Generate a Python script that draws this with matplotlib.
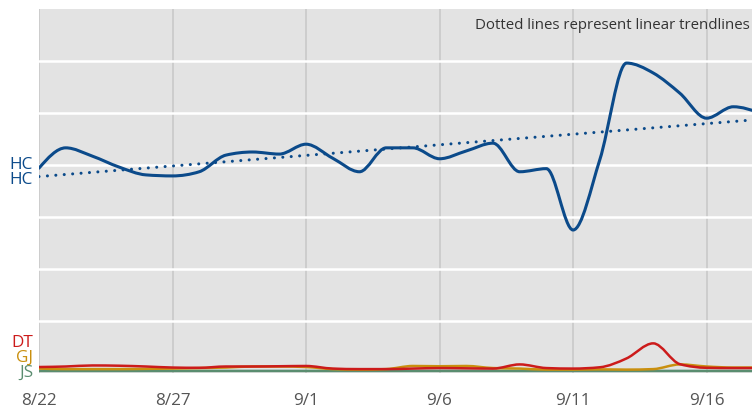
import numpy as np
import matplotlib
matplotlib.use("Agg")
import matplotlib.pyplot as plt
from matplotlib.path import Path
from matplotlib.patches import PathPatch

plt.rcParams['font.family'] = ['Open Sans', 'DejaVu Sans']

# ---- data (days since 8/22) ----
days = list(range(28))
hc = [39.4, 43.3, 41.7, 39.6, 38.1, 37.9, 38.7, 41.9, 42.5, 42.1, 44.0, 41.3, 38.7, 43.3,
      43.3, 41.2, 42.7, 44.2, 38.7, 39.3, 27.5, 41.0, 59.6, 57.7, 53.8, 49.0, 51.2, 50.0]
dt = [1.15, 1.25, 1.45, 1.4, 1.25, 1.05, 1.0, 1.25, 1.25, 1.3, 1.35, 0.85, 0.75, 0.75,
      0.85, 0.95, 0.9, 0.85, 1.65, 0.95, 0.85, 1.1, 2.8, 5.7, 1.7, 1.0, 0.95, 0.95]
gj = [0.85, 0.75, 0.75, 0.75, 0.8, 0.85, 0.95, 1.05, 1.25, 1.25, 1.15, 0.75, 0.65, 0.75,
      1.35, 1.3, 1.35, 0.95, 0.85, 0.65, 0.65, 0.7, 0.65, 0.75, 1.65, 1.25, 1.05, 1.05]
js = [0.4] * 28
tick_days = [0, 5, 10, 15, 20, 25]
tick_labels = ['8/22', '8/27', '9/1', '9/6', '9/11', '9/16']
series_names = ['HC', 'DT', 'GJ', 'JS']
series_values = [hc, dt, gj, js]
colors = {'HC': '#0b4a8a', 'DT': '#cc1b1b', 'GJ': '#c98f0e', 'JS': '#5a8d70'}
trend_series = ['HC']
note = 'Dotted lines represent linear trendlines'


def monotone_path(x, y):
    x = np.asarray(x, float)
    y = np.asarray(y, float)
    n = len(x)
    h = np.diff(x)
    s = np.diff(y) / h
    m = np.zeros(n)
    for i in range(1, n - 1):
        p = (s[i - 1] * h[i] + s[i] * h[i - 1]) / (h[i - 1] + h[i])
        m[i] = (np.sign(s[i - 1]) + np.sign(s[i])) * min(abs(s[i - 1]), abs(s[i]), 0.5 * abs(p))
    m[0] = (3 * s[0] - m[1]) / 2
    m[-1] = (3 * s[-1] - m[-2]) / 2
    verts = [(x[0], y[0])]
    codes = [Path.MOVETO]
    for i in range(n - 1):
        d = h[i] / 3
        verts += [(x[i] + d, y[i] + m[i] * d), (x[i + 1] - d, y[i + 1] - m[i + 1] * d), (x[i + 1], y[i + 1])]
        codes += [Path.CURVE4] * 3
    return Path(verts, codes)


W, H = 752, 408
fig = plt.figure(figsize=(W / 100, H / 100), dpi=100)
ax = fig.add_axes([39 / W, 35 / H, 1 - 39 / W, (373 - 9) / H])
ax.set_facecolor('#e3e3e3')
ax.set_xlim(0, 26.7)
ax.set_ylim(0, 70)
for sp in ax.spines.values():
    sp.set_visible(False)

ax.set_yticks(np.arange(10, 70, 10))
ax.set_yticklabels([])
ax.set_xticks(tick_days)
ax.set_xticklabels(tick_labels)
ax.tick_params(axis='both', length=0)
ax.tick_params(axis='x', pad=14.5, labelsize=12.3, labelcolor='#555555')
ax.yaxis.grid(True, color='white', lw=1.8)
ax.xaxis.grid(True, color='#cdcdcd', lw=1.4)
ax.set_axisbelow(True)

x = np.array(days, float)
label_items = []
draw_order = ['JS', 'GJ', 'DT', 'HC']
for name in draw_order:
    vals = series_values[series_names.index(name)]
    c = colors[name]
    lw = 2.2 if name == 'HC' else 1.8
    patch = PathPatch(monotone_path(x, vals), facecolor='none', edgecolor=c, lw=lw,
                      capstyle='round', joinstyle='round', zorder=4)
    ax.add_patch(patch)
    label_items.append((name, vals[0], c))
    if name in trend_series:
        slope, icpt = np.polyfit(x, vals, 1)
        xt = np.array([x[0], x[-1]])
        ax.plot(xt, icpt + slope * xt, color=c, lw=2.2,
                linestyle=(0, (0.01, 2.75)), dash_capstyle='round', zorder=3)
        label_items.append((name, icpt, c))

# dodge labels vertically
label_items.sort(key=lambda t: t[1])
pos = [max(v, 0.0) for _, v, _ in label_items]
gap = 2.9
for _ in range(200):
    for i in range(len(pos) - 1):
        if pos[i + 1] - pos[i] < gap:
            mid = (pos[i] + pos[i + 1]) / 2
            pos[i], pos[i + 1] = mid - gap / 2, mid + gap / 2
    pos = [max(p, 0.0) for p in pos]
for (name, v, c), p in zip(label_items, pos):
    ax.annotate(name, xy=(0, p), xycoords='data', xytext=(-6, 0), textcoords='offset pixels',
                ha='right', va='center', fontsize=12.3, color=c, annotation_clip=False)

ax.text(0.997, 0.955, note, transform=ax.transAxes, ha='right', va='center',
        fontsize=10.85, color='#333333')

fig.savefig('out.png', dpi=100)
